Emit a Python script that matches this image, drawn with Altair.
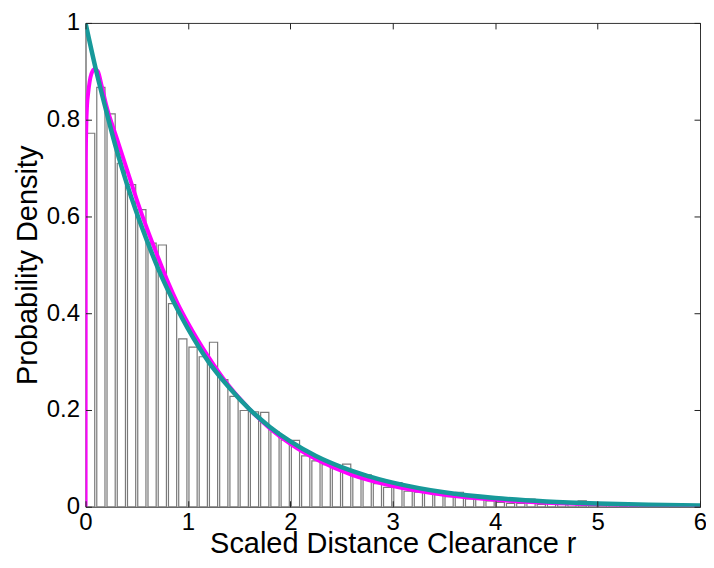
import altair as alt
import pandas as pd

# ---------------- data ----------------
bin_left = [round(0.1 * i, 1) for i in range(60)]
bar_height = [
    0.772, 0.867, 0.812, 0.710, 0.666, 0.614, 0.545, 0.541, 0.420, 0.347,
    0.330, 0.310, 0.340, 0.263, 0.228, 0.199, 0.196, 0.195, 0.155, 0.138,
    0.137, 0.105, 0.095, 0.087, 0.080, 0.088, 0.063, 0.066, 0.048, 0.040,
    0.050, 0.032, 0.030, 0.029, 0.025, 0.021, 0.030, 0.016, 0.015, 0.012,
    0.009, 0.007, 0.007, 0.016, 0.005, 0.007, 0.005, 0.006, 0.012, 0.004,
    0.004, 0.003, 0.002, 0.002, 0.001, 0.001, 0.001, 0.000, 0.000, 0.000,
]

magenta_r = [0, 0.001, 0.003, 0.008, 0.015, 0.026, 0.04, 0.058, 0.09, 0.12,
             0.16, 0.2, 0.3, 0.4, 0.5, 0.6, 0.7, 0.8, 0.9, 1.0, 1.2, 1.4,
             1.6, 1.8, 2.0, 2.3, 2.6, 3.0, 3.5, 4.0, 4.5, 5.0, 5.5, 6.0]
magenta_v = [0, 0.45, 0.72, 0.79, 0.83, 0.855, 0.878, 0.895, 0.905, 0.9,
             0.868, 0.832, 0.765, 0.70, 0.635, 0.575, 0.52, 0.467, 0.42, 0.38,
             0.31, 0.25, 0.202, 0.162, 0.13, 0.093, 0.066, 0.043, 0.025,
             0.0145, 0.0085, 0.005, 0.003, 0.0017]

teal_r = [0, 0.1, 0.2, 0.3, 0.4, 0.5, 0.6, 0.7, 0.8, 0.9, 1.0, 1.2, 1.4, 1.6,
          1.8, 2.0, 2.25, 2.5, 2.75, 3.0, 3.5, 4.0, 4.5, 5.0, 5.5, 6.0]
teal_v = [1.0, 0.905, 0.82, 0.74, 0.67, 0.607, 0.55, 0.497, 0.45, 0.407,
          0.368, 0.30, 0.247, 0.202, 0.165, 0.135, 0.105, 0.082, 0.064, 0.05,
          0.03, 0.018, 0.011, 0.0067, 0.004, 0.0025]

x_ticks = [0, 1, 2, 3, 4, 5, 6]
y_ticks = [0, 0.2, 0.4, 0.6, 0.8, 1]

# ---------------- layout / style ----------------
W, H = 616, 485
FONT = "Liberation Sans"
BAR_FRAC = 0.8

bars_df = pd.DataFrame({
    "x0": [b + 0.1 * (1 - BAR_FRAC) / 2 for b in bin_left],
    "x1": [b + 0.1 * (1 + BAR_FRAC) / 2 for b in bin_left],
    "h": bar_height,
    "base": [0.0] * len(bin_left),
})
mag_df = pd.DataFrame({"r": magenta_r, "v": magenta_v})
teal_df = pd.DataFrame({"r": teal_r, "v": teal_v})

xscale = alt.Scale(domain=[0, 6], nice=False, zero=False)
yscale = alt.Scale(domain=[0, 1], nice=False, zero=False)

x_main = alt.Axis(orient="bottom", values=x_ticks, format="d", ticks=False,
                  domain=False, grid=False, labelFlush=False,
                  labelFont=FONT, labelFontSize=24, labelColor="black",
                  labelPadding=4,
                  title="Scaled Distance Clearance r", titleFont=FONT,
                  titleFontSize=29, titleFontWeight="normal",
                  titleColor="black", titlePadding=-5)
y_main = alt.Axis(orient="left", values=y_ticks, format="~g", ticks=False,
                  domain=False, grid=False, labelFlush=False,
                  labelFont=FONT, labelFontSize=24, labelColor="black",
                  labelPadding=6,
                  title="Probability Density", titleFont=FONT,
                  titleFontSize=29, titleFontWeight="normal",
                  titleColor="black", titlePadding=4)


def tick_axis(orient, offset, values):
    return alt.Axis(orient=orient, offset=offset, values=values, labels=False,
                    domain=False, grid=False, ticks=True, tickSize=6,
                    tickColor="#222222", tickWidth=1, title="", zindex=1)


bars = alt.Chart(bars_df).mark_rect(
    fill="white", stroke="#7a7a7a", strokeWidth=1.2
).encode(
    x=alt.X("x0:Q", scale=xscale, axis=x_main),
    x2="x1:Q",
    y=alt.Y("h:Q", scale=yscale, axis=y_main),
    y2="base:Q",
)

mag = alt.Chart(mag_df).mark_line(
    color="#FF00FF", strokeWidth=4, interpolate="monotone", clip=True
).encode(
    x=alt.X("r:Q", scale=xscale, axis=tick_axis("top", -H, x_ticks)),
    y=alt.Y("v:Q", scale=yscale, axis=tick_axis("right", -W, y_ticks)),
)

teal = alt.Chart(teal_df).mark_line(
    color="#17999A", strokeWidth=4.5, interpolate="monotone", clip=True
).encode(
    x=alt.X("r:Q", scale=xscale, axis=tick_axis("bottom", -H, x_ticks)),
    y=alt.Y("v:Q", scale=yscale, axis=tick_axis("left", -W, y_ticks)),
)

chart = alt.layer(bars, mag, teal).resolve_axis(
    x="independent", y="independent"
).properties(
    width=W, height=H,
    padding={"left": 77.7, "top": 14.3, "right": 6, "bottom": 52},
    autosize=alt.AutoSizeParams(type="none"),
    background="white",
).configure_view(stroke="#333333", strokeWidth=1)

chart.save("out.html", embed_options={"renderer": "svg", "actions": False})
